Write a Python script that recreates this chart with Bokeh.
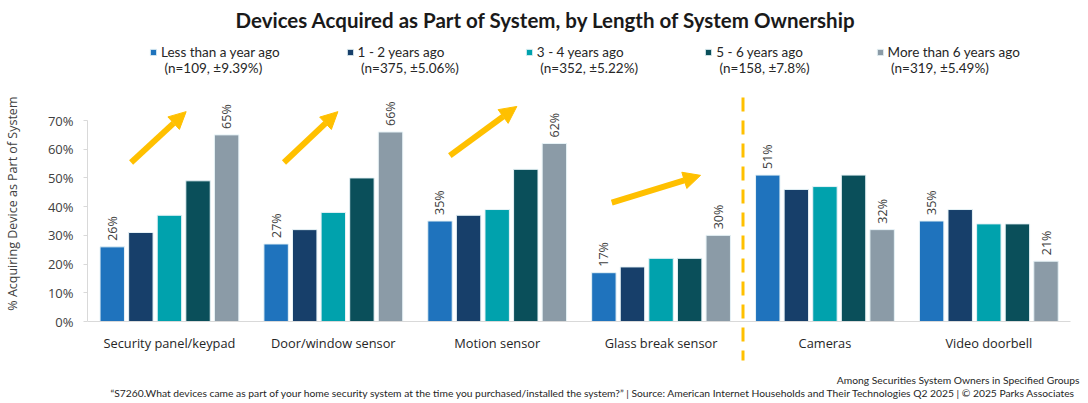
import numpy as np
from bokeh.plotting import figure
from bokeh.models import (Range1d, FixedTicker, PrintfTickFormatter, Legend, LegendItem,
                          Arrow, NormalHead, Label, LinearAxis, ColumnDataSource)
from bokeh.embed import file_html
from bokeh.resources import INLINE
from bokeh.core.properties import value

# ---------------- data ----------------
categories = ["Security panel/keypad", "Door/window sensor", "Motion sensor",
              "Glass break sensor", "Cameras", "Video doorbell"]
series_names = ["Less than a year ago", "1 - 2 years ago", "3 - 4 years ago",
                "5 - 6 years ago", "More than 6 years ago"]
series_notes = ["(n=109, ±9.39%)", "(n=375, ±5.06%)", "(n=352, ±5.22%)",
                "(n=158, ±7.8%)", "(n=319, ±5.49%)"]
less_than_1_year = [26, 27, 35, 17, 51, 35]
years_1_2 = [31, 32, 37, 19, 46, 39]
years_3_4 = [37, 38, 39, 22, 47, 34]
years_5_6 = [49, 50, 53, 22, 51, 34]
more_than_6_years = [65, 66, 62, 30, 32, 21]
y_ticks = [0, 10, 20, 30, 40, 50, 60, 70]
# trend arrows: (x_start, y_start, x_end, y_end) in category units / percent
trend_arrows = [(0.266, 55.4, 0.602, 73.1),
                (1.199, 55.4, 1.528, 73.1),
                (2.211, 57.8, 2.620, 74.9),
                (3.199, 41.4, 3.741, 50.9)]
divider_position = 4  # between "Glass break sensor" and "Cameras"

title_text = "Devices Acquired as Part of System, by Length of System Ownership"
y_label = "%  Acquiring Device as Part of System"
note_1 = "Among Securities System Owners in Specified Groups"
note_2 = ("\u201cS7260.What devices came as part of your home security system at the time  you "
          "purchased/installed the system?\u201d | Source: American Internet Households and Their "
          "Technologies Q2 2025 | \u00a9 2025 Parks Associates")

# ---------------- layout / styling ----------------
W, H = 1088, 403
LEFT = 86            # frame left (px)
PX_PER_CAT = 164.04  # px per category
PX_PER_PCT = 2.871   # px per percentage point
ZERO_Y = 321         # y (px from top) of 0 %
colors = ["#1F73BD", "#173F6A", "#00A2AD", "#0A4F5A", "#8B9BA7"]
yellow = "#FFC000"
text_dark = "#404040"
BAR_PITCH = 0.1745
BAR_WIDTH = 0.149

all_series = [less_than_1_year, years_1_2, years_3_4, years_5_6, more_than_6_years]

x_end = (W - LEFT) / PX_PER_CAT
y_start = -(H - ZERO_Y) / PX_PER_PCT
y_end = ZERO_Y / PX_PER_PCT

p = figure(width=W, height=H, x_range=Range1d(0, x_end),
           y_range=Range1d(y_start, y_end), output_backend="svg",
           toolbar_location=None, title=None,
           min_border_left=LEFT, min_border_right=0, min_border_top=0,
           min_border_bottom=0)
p.outline_line_color = None
p.xgrid.visible = False
p.ygrid.visible = False
p.background_fill_color = "white"
p.border_fill_color = "white"

renderers = []
for j, (vals, col) in enumerate(zip(all_series, colors)):
    xs = [i + 0.5 + (j - 2) * BAR_PITCH for i in range(len(categories))]
    src = ColumnDataSource(dict(x=xs, top=vals))
    r = p.vbar(x="x", top="top", width=BAR_WIDTH, source=src, fill_color=col,
               line_color="#E6F2F6", line_width=1)
    renderers.append(r)
    if j in (0, len(all_series) - 1):
        lsrc = ColumnDataSource(dict(x=xs, y=vals, t=[f"{v}%" for v in vals]))
        p.text(x="x", y="y", text="t", source=lsrc, angle=np.pi / 2,
               text_align="left", text_baseline="middle", y_offset=-6,
               text_font=value("Open Sans"), text_font_size="12.5px",
               text_color=text_dark)

for (x0, y0, x1, y1) in trend_arrows:
    p.add_layout(Arrow(end=NormalHead(size=17, fill_color=yellow, line_color=yellow,
                                      line_width=1),
                       x_start=x0, y_start=y0, x_end=x1, y_end=y1,
                       line_color=yellow, line_width=6))

p.add_layout(Arrow(start=None, end=None, x_start=divider_position, y_start=78.0,
                   x_end=divider_position, y_end=-13.6, line_color=yellow,
                   line_width=3, line_dash="14 9"))

# x axis, fixed at 0 %
xa = p.xaxis[0]
xa.fixed_location = 0
xa.bounds = (0, len(categories))
xa.ticker = FixedTicker(ticks=[i + 0.5 for i in range(len(categories))])
xa.major_label_overrides = {i + 0.5: c for i, c in enumerate(categories)}
xa.major_tick_line_color = None
xa.minor_tick_line_color = None
xa.axis_line_color = "#D9D9D9"
xa.major_label_text_font = "Open Sans"
xa.major_label_text_font_size = "12.8px"
xa.major_label_text_color = "#262626"
xa.major_label_standoff = 6

# y axis with ticks
ya = p.yaxis[0]
ya.ticker = FixedTicker(ticks=y_ticks)
ya.formatter = PrintfTickFormatter(format="%d%%")
ya.bounds = (0, 70)
ya.axis_line_color = "#D9D9D9"
ya.major_tick_line_color = "#D9D9D9"
ya.major_tick_out = 4
ya.major_tick_in = 0
ya.minor_tick_line_color = None
ya.major_label_text_font = "Open Sans"
ya.major_label_text_font_size = "13px"
ya.major_label_text_color = text_dark
ya.major_label_standoff = 10

# second (label-only) y axis, so the axis title sits where the reference has it
ylab = LinearAxis(axis_label=y_label, bounds=(10, 78.4), axis_line_color=None,
                  major_tick_line_color=None, minor_tick_line_color=None,
                  major_label_text_font_size="0px", ticker=FixedTicker(ticks=[]),
                  axis_label_text_font="Open Sans", axis_label_text_font_size="12.5px",
                  axis_label_text_font_style="normal", axis_label_text_color=text_dark,
                  axis_label_standoff=24)
p.add_layout(ylab, "left")

# title and footnotes (screen units relative to the plot frame)
p.add_layout(Label(x=148, y=H - 19, x_units="screen", y_units="screen",
                   text=title_text, text_align="left", text_baseline="middle",
                   text_font="Lato", text_font_size="20.5px", text_font_style="bold",
                   text_color="#1A1A1A"))
p.add_layout(Label(x=1078 - LEFT, y=H - 379, x_units="screen", y_units="screen",
                   text=note_1, text_align="right", text_baseline="middle",
                   text_font="Lato", text_font_size="10.3px", text_color="#262626"))
p.add_layout(Label(x=1078 - LEFT, y=H - 392, x_units="screen", y_units="screen",
                   text=note_2, text_align="right", text_baseline="middle",
                   text_font="Lato", text_font_size="10.3px", text_color="#262626"))

# legend: a blank first line keeps the colour square level with the series name
items = [LegendItem(label=f"\u00a0\n{n}\n {m}", renderers=[r])
         for n, m, r in zip(series_names, series_notes, renderers)]
legend = Legend(items=items, orientation="horizontal", location=(62, H - 76),
                spacing=66, padding=0, margin=0, border_line_alpha=0,
                background_fill_alpha=0, label_text_font="Lato",
                label_text_font_size="13.5px", label_text_color="#262626",
                label_text_line_height=1.7,
                glyph_width=8, glyph_height=8, label_standoff=4)
p.add_layout(legend, "center")

open("out.html", "w").write(file_html(p, INLINE))
